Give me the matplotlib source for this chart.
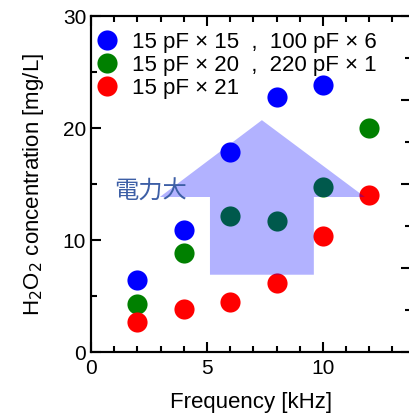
import numpy as np
import matplotlib
matplotlib.use('Agg')
import matplotlib.pyplot as plt
from matplotlib.patches import Polygon
from matplotlib.ticker import MultipleLocator

plt.rcParams['font.family'] = ['Liberation Sans', 'Noto Sans CJK JP', 'DejaVu Sans']

# Data
freq_a = [2, 4, 6, 8, 10]
h2o2_a = [6.4, 10.9, 17.9, 22.8, 23.8]
freq_b = [2, 4, 6, 8, 10, 12]
h2o2_b = [4.3, 8.8, 12.1, 11.7, 14.7, 20.0]
freq_c = [2, 4, 6, 8, 10, 12]
h2o2_c = [2.7, 3.8, 4.5, 6.2, 10.4, 14.0]
labels = ['15 pF \u00d7 15  ,  100 pF \u00d7 6',
          '15 pF \u00d7 20  ,  220 pF \u00d7 1',
          '15 pF \u00d7 21']

# "more power" arrow outline (data coords)
arrow_x = [5.13, 5.13, 2.97, 7.37, 11.81, 9.61, 9.61]
arrow_y = [6.9, 13.84, 13.84, 20.7, 13.84, 13.84, 6.9]

fig = plt.figure(figsize=(4.09, 4.19), dpi=100)
ax = fig.add_axes([91/409, 67/419, 320/409, 336/419])

ms = 14.5
ax.plot(freq_a, h2o2_a, 'o', color='blue', ms=ms, mec='none', label=labels[0])
ax.plot(freq_b, h2o2_b, 'o', color='green', ms=ms, mec='none', label=labels[1])
ax.plot(freq_c, h2o2_c, 'o', color='red', ms=ms, mec='none', label=labels[2])

ax.add_patch(Polygon(list(zip(arrow_x, arrow_y)), closed=True,
                     facecolor='blue', alpha=0.3, edgecolor='none', zorder=5))
ax.text(0.98, 14.3, '電力大', fontsize=17.5, color='#3d5fa6',
        family=['Noto Sans CJK JP'], va='center', ha='left', zorder=6)

ax.set_xlim(0, 13.8)
ax.set_ylim(0, 30)
ax.xaxis.set_major_locator(MultipleLocator(5))
ax.xaxis.set_minor_locator(MultipleLocator(1))
ax.yaxis.set_major_locator(MultipleLocator(10))
ax.yaxis.set_minor_locator(MultipleLocator(5))
ax.tick_params(which='both', direction='in', top=True, right=False,
               labelsize=15, width=1.5)
ax.tick_params(axis='x', pad=5)
ax.tick_params(which='major', length=7)
ax.tick_params(which='minor', length=4)
for s in ax.spines.values():
    s.set_linewidth(1.5)

# secondary scale on the right (its labels lie outside the picture)
ax2 = ax.twinx()
ax2.set_ylim(0, 4)
ax2.yaxis.set_major_locator(MultipleLocator(1))
ax2.yaxis.set_minor_locator(MultipleLocator(0.5))
ax2.tick_params(which='both', direction='in', width=1.5, labelright=False)
ax2.tick_params(which='major', length=7)
ax2.tick_params(which='minor', length=4)
for s in ax2.spines.values():
    s.set_linewidth(1.5)

ax.set_xlabel('Frequency [kHz]', fontsize=16, labelpad=10)
ax.set_ylabel('H$_2$O$_2$ concentration [mg/L]', fontsize=16, labelpad=12)

ax.legend(loc='upper left', bbox_to_anchor=(0.016, 0.952), frameon=False,
          handlelength=1, handletextpad=0.6, labelspacing=0.08,
          borderaxespad=0, borderpad=0, prop={'size': 16})

fig.savefig('out.png', dpi=100)
